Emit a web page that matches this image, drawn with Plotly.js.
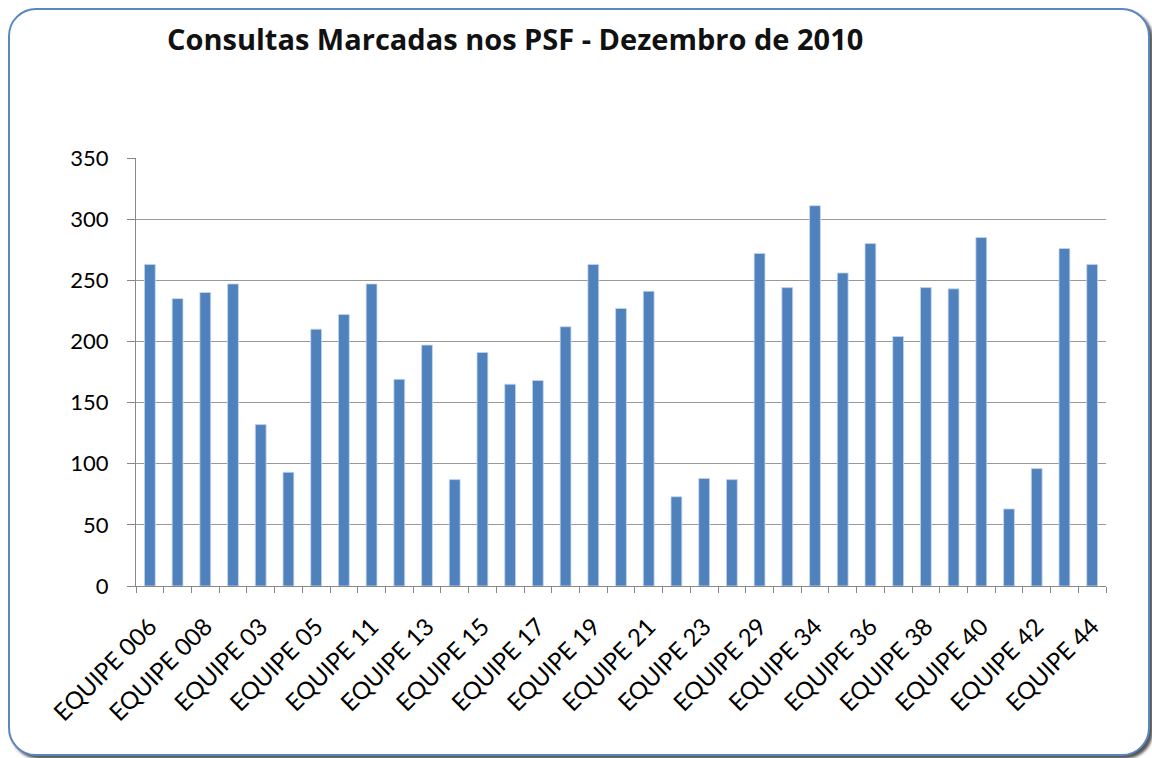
<!DOCTYPE html>
<html>
<head>
<meta charset="utf-8">
<script src="https://cdn.plot.ly/plotly-3.0.1.min.js"></script>
<style>
  body { margin: 0; background: #fff; }
  #frame {
    position: absolute; left: 8px; top: 8px; width: 1138px; height: 744px;
    border: 2px solid #5b86c2; border-radius: 28px; background: #fff;
    box-shadow: 3px 3px 3px #555;
  }
  #myDiv { position: absolute; left: 0; top: 0; width: 1152px; height: 758px; }
</style>
</head>
<body>
<div id="frame"></div>
<div id="myDiv"></div>
<script>
var equipes = ['EQUIPE 006', 'EQUIPE 007', 'EQUIPE 008', 'EQUIPE 02', 'EQUIPE 03', 'EQUIPE 04', 'EQUIPE 05',
  'EQUIPE 10', 'EQUIPE 11', 'EQUIPE 12', 'EQUIPE 13', 'EQUIPE 14', 'EQUIPE 15', 'EQUIPE 16', 'EQUIPE 17',
  'EQUIPE 18', 'EQUIPE 19', 'EQUIPE 20', 'EQUIPE 21', 'EQUIPE 22', 'EQUIPE 23', 'EQUIPE 28', 'EQUIPE 29',
  'EQUIPE 33', 'EQUIPE 34', 'EQUIPE 35', 'EQUIPE 36', 'EQUIPE 37', 'EQUIPE 38', 'EQUIPE 39', 'EQUIPE 40',
  'EQUIPE 41', 'EQUIPE 42', 'EQUIPE 43', 'EQUIPE 44'];
var consultas = [263, 235, 240, 247, 132, 93, 210, 222, 247, 169, 197, 87, 191, 165, 168, 212, 263, 227,
  241, 73, 88, 87, 272, 244, 311, 256, 280, 204, 244, 243, 285, 63, 96, 276, 263];
var yTicks = [0, 50, 100, 150, 200, 250, 300, 350];

// only every other category gets its label, like the original sheet
var tickText = equipes.map(function (e, i) { return i % 2 === 0 ? e : ''; });

var trace1 = {
  x: equipes,
  y: consultas,
  type: 'bar',
  marker: { color: '#4f81bd', line: { color: '#c6d6ec', width: 0.8 } },
  hoverinfo: 'x+y'
};

var layout = {
  width: 1152,
  height: 758,
  paper_bgcolor: 'rgba(0,0,0,0)',
  plot_bgcolor: 'rgba(0,0,0,0)',
  margin: { l: 136, r: 46, t: 158, b: 172 },
  bargap: 0.61,
  showlegend: false,
  font: { family: 'Lato, "Open Sans", sans-serif', color: '#000' },
  title: {
    text: '<b>Consultas Marcadas nos PSF - Dezembro de 2010</b>',
    font: { size: 29, color: '#111', family: '"Open Sans", sans-serif' },
    xref: 'container', x: 167 / 1152, xanchor: 'left',
    yref: 'container', y: 1 - 40 / 758, yanchor: 'middle'
  },
  xaxis: {
    type: 'category',
    tickmode: 'array',
    tickvals: equipes,
    ticktext: tickText,
    tickson: 'boundaries',
    ticks: 'outside',
    ticklen: 6,
    tickcolor: '#888',
    tickangle: -45,
    tickfont: { size: 24 },
    ticklabelstandoff: 16,
    showline: true,
    linecolor: '#888',
    showgrid: false,
    zeroline: false
  },
  yaxis: {
    range: [0, 350],
    tickvals: yTicks,
    ticks: 'outside',
    ticklen: 8,
    tickcolor: '#888',
    tickfont: { size: 22 },
    showline: true,
    linecolor: '#888',
    showgrid: true,
    gridcolor: '#999',
    zeroline: false,
    ticklabelstandoff: 14
  }
};

Plotly.newPlot('myDiv', [trace1], layout, { displayModeBar: false });
</script>
</body>
</html>
